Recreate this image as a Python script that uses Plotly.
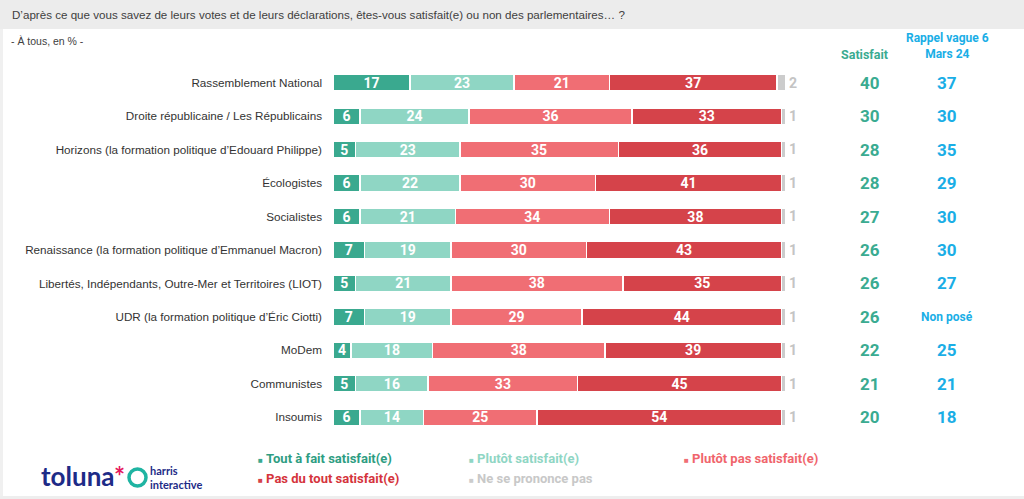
import plotly.graph_objects as go

categories = [
    "Rassemblement National",
    "Droite républicaine / Les Républicains",
    "Horizons (la formation politique d’Edouard Philippe)",
    "Écologistes",
    "Socialistes",
    "Renaissance (la formation politique d’Emmanuel Macron)",
    "Libertés, Indépendants, Outre-Mer et Territoires (LIOT)",
    "UDR (la formation politique d’Éric Ciotti)",
    "MoDem",
    "Communistes",
    "Insoumis",
]
tout_a_fait = [17, 6, 5, 6, 6, 7, 5, 7, 4, 5, 6]
plutot = [23, 24, 23, 22, 21, 19, 21, 19, 18, 16, 14]
plutot_pas = [21, 36, 35, 30, 34, 30, 38, 29, 38, 33, 25]
pas_du_tout = [37, 33, 36, 41, 38, 43, 35, 44, 39, 45, 54]
nsp = [2, 1, 1, 1, 1, 1, 1, 1, 1, 1, 1]
satisfait = [40, 30, 28, 28, 27, 26, 26, 26, 22, 21, 20]
rappel = ["37", "30", "35", "29", "30", "30", "27", "Non posé", "25", "21", "18"]

series_names = ["Tout à fait satisfait(e)", "Plutôt satisfait(e)", "Plutôt pas satisfait(e)",
                "Pas du tout satisfait(e)", "Ne se prononce pas"]
colors = ["#3aa98f", "#8fd6c4", "#f06e74", "#d5434a", "#cccccc"]
legend_text_colors = ["#2e9d82", "#8fd6c4", "#f0656c", "#d5343c", "#c8c8c8"]

BAR_FONT = "Roboto"
L, R, T, B = 333, 238, 66, 65
W, H = 1024, 499
PW, PH = W - L - R, H - T - B


def px(xp):
    return (xp - L) / PW


def py(yp):
    return 1 - (yp - T) / PH


fig = go.Figure()
vals = [tout_a_fait, plutot, plutot_pas, pas_du_tout]
for name, v, c in zip(series_names[:4], vals, colors[:4]):
    fig.add_trace(go.Bar(
        y=categories, x=v, orientation="h", name=name,
        marker=dict(color=c, line=dict(color="white", width=1.5)),
        width=0.5,
        text=[f"<b>{x}</b>" for x in v], textposition="inside", textangle=0,
        insidetextanchor="middle",
        textfont=dict(family=BAR_FONT, size=14, color="white"),
        showlegend=False,
    ))
fig.add_trace(go.Bar(
    y=categories, x=nsp, orientation="h", name=series_names[4],
    marker=dict(color=colors[4], line=dict(color="white", width=1.5)),
    width=0.5,
    text=[f"<b>{x}</b>" for x in nsp], textposition="outside", textangle=0,
    textfont=dict(family=BAR_FONT, size=16, color="#c4c4c4"),
    cliponaxis=False, showlegend=False,
))

annotations = []
for cat, s, r in zip(categories, satisfait, rappel):
    annotations.append(dict(x=px(870), y=cat, xref="paper", yref="y", text=f"<b>{s}</b>",
                            xanchor="center", yanchor="middle",
                            showarrow=False, font=dict(family=BAR_FONT, size=17, color="#3aab91")))
    rsize = 12 if r == "Non posé" else 17
    annotations.append(dict(x=px(947), y=cat, xref="paper", yref="y", text=f"<b>{r}</b>",
                            xanchor="center", yanchor="middle",
                            showarrow=False, font=dict(family=BAR_FONT, size=rsize, color="#1aaee6")))

# Column headers
annotations.append(dict(x=px(864), y=py(55), xref="paper", yref="paper",
                        xanchor="center", yanchor="middle",
                        text="<b>Satisfait</b>", showarrow=False,
                        font=dict(family=BAR_FONT, size=12.5, color="#3aab91")))
annotations.append(dict(x=px(947), y=py(46), xref="paper", yref="paper",
                        xanchor="center", yanchor="middle",
                        text="<b>Rappel vague 6<br>Mars 24</b>", showarrow=False,
                        font=dict(family=BAR_FONT, size=12, color="#1aaee6")))

# Title and subtitle
annotations.append(dict(x=px(10), y=py(15), xref="paper", yref="paper", xanchor="left", yanchor="middle",
                        text="D’après ce que vous savez de leurs votes et de leurs déclarations, êtes-vous satisfait(e) ou non des parlementaires… ?",
                        showarrow=False, font=dict(family="Liberation Sans", size=11.6, color="#404040")))
annotations.append(dict(x=px(9), y=py(41), xref="paper", yref="paper", xanchor="left", yanchor="middle",
                        text="- À tous, en % -", showarrow=False,
                        font=dict(family="Liberation Sans", size=10.5, color="#404040")))

# Legend
legend_pos = [(256, 458), (467, 458), (682, 458), (256, 478), (467, 478)]
for (lx, ly), name, col, tcol in zip(legend_pos, series_names, colors, legend_text_colors):
    annotations.append(dict(x=px(lx), y=py(ly), xref="paper", yref="paper", xanchor="left", yanchor="middle",
                            text=f"<span style='font-size:8px;color:{col}'>■</span> <b>{name}</b>",
                            showarrow=False, font=dict(family=BAR_FONT, size=13, color=tcol)))

# Logos
annotations.append(dict(x=px(39), y=py(476), xref="paper", yref="paper", xanchor="left", yanchor="middle",
                        text="<b>toluna</b><span style='color:#e5195e'><b>*</b></span>", showarrow=False,
                        font=dict(family="Lato", size=26, color="#1d2b87")))
annotations.append(dict(x=px(148), y=py(477), xref="paper", yref="paper", xanchor="left", yanchor="middle",
                        text="<b>harris<br>interactive</b>", showarrow=False, align="left",
                        font=dict(family="Lato", size=11, color="#1d2b87")))

shapes = [
    dict(type="rect", xref="paper", yref="paper", x0=px(0), x1=px(W),
         y0=py(29), y1=py(0), fillcolor="#ececec", line=dict(width=0), layer="below"),
    dict(type="rect", xref="paper", yref="paper", x0=px(0), x1=px(3),
         y0=py(496), y1=py(29), fillcolor="#f0f0f0", line=dict(width=0), layer="below"),
    dict(type="rect", xref="paper", yref="paper", x0=px(0), x1=px(W),
         y0=py(499), y1=py(496), fillcolor="#eeeeee", line=dict(width=0), layer="below"),
    dict(type="circle", xref="paper", yref="paper", x0=px(129), x1=px(146),
         y0=py(486), y1=py(469), line=dict(color="#1fb4a2", width=3.5)),
]

fig.update_layout(
    barmode="stack",
    width=W, height=H,
    margin=dict(l=L, r=R, t=T, b=B, autoexpand=False),
    paper_bgcolor="white", plot_bgcolor="white",
    xaxis=dict(range=[0, 100], visible=False, fixedrange=True),
    yaxis=dict(categoryorder="array", categoryarray=categories, autorange="reversed",
               showgrid=False, zeroline=False, showline=False, ticks="",
               ticklabelstandoff=10, fixedrange=True,
               tickfont=dict(family="Liberation Sans", size=11.7, color="#333333")),
    uniformtext=dict(minsize=14, mode="show"),
    annotations=annotations,
    shapes=shapes,
)
fig.write_html("out.html", config={"displayModeBar": False},
               post_script="document.body.style.margin='0';document.body.style.overflow='hidden';")
